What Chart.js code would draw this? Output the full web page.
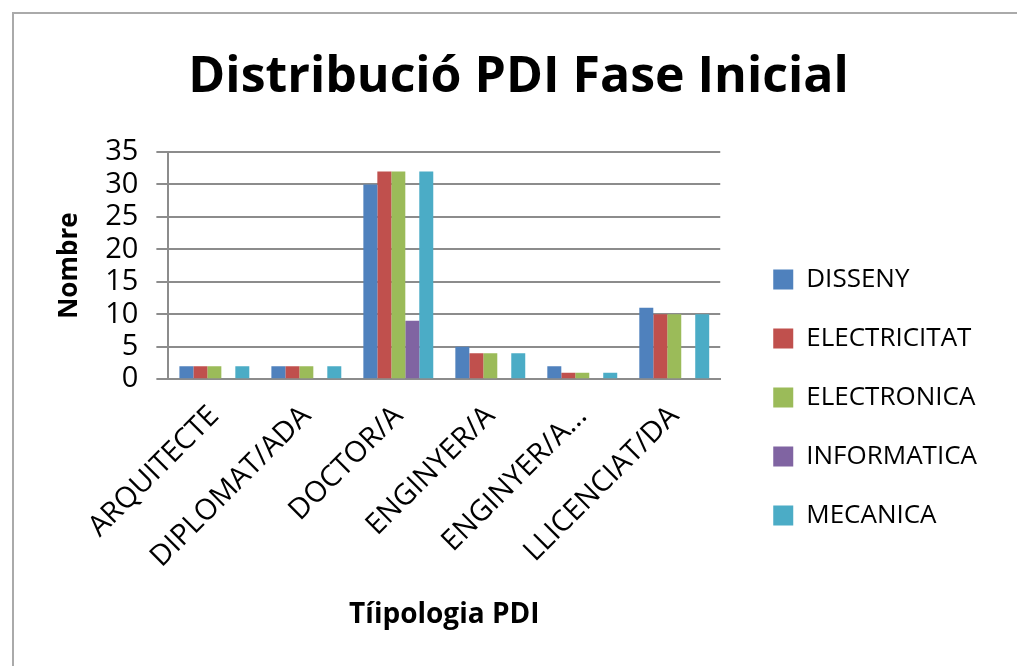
<!DOCTYPE html>
<html lang="ca">
  <head>
    <meta charset="UTF-8" />
    <title>Distribució PDI Fase Inicial</title>
    <style>
      body { margin: 0; background: #fff; overflow: hidden; }
      #frame {
        position: absolute;
        left: 12px;
        top: 12px;
        width: 1100px;
        height: 700px;
        border: 2px solid #aaa;
      }
      #wrap { position: absolute; left: 0; top: 0; width: 1003px; height: 652px; }
    </style>
  </head>
  <body>
    <div id="frame">
      <div id="wrap"><canvas id="myChart"></canvas></div>
    </div>

    <script src="https://cdn.jsdelivr.net/npm/chart.js"></script>
    <script>
      const categories = ["ARQUITECTE", "DIPLOMAT/ADA", "DOCTOR/A", "ENGINYER/A", "ENGINYER/A...", "LLICENCIAT/DA"];
      const disseny = [2, 2, 30, 5, 2, 11];
      const electricitat = [2, 2, 32, 4, 1, 10];
      const electronica = [2, 2, 32, 4, 1, 10];
      const informatica = [0, 0, 9, 0, 0, 0];
      const mecanica = [2, 2, 32, 4, 1, 10];
      const yTicks = [0, 5, 10, 15, 20, 25, 30, 35];

      const font = "'Open Sans', sans-serif";
      const grid = "#8c8c8c";

      function serie(label, data, color) {
        return {
          label: label,
          data: data,
          backgroundColor: color,
          borderWidth: 0,
          barPercentage: 1.0,
          categoryPercentage: 0.76,
        };
      }

      const ctx = document.getElementById("myChart").getContext("2d");
      const chart = new Chart(ctx, {
        type: "bar",
        data: {
          labels: categories,
          datasets: [
            serie("DISSENY", disseny, "#4f81bd"),
            serie("ELECTRICITAT", electricitat, "#c0504d"),
            serie("ELECTRONICA", electronica, "#9bbb59"),
            serie("INFORMATICA", informatica, "#8064a2"),
            serie("MECANICA", mecanica, "#4bacc6"),
          ],
        },
        options: {
          responsive: true,
          maintainAspectRatio: false,
          animation: false,
          layout: { padding: { left: 36, right: 30, bottom: 30 } },
          plugins: {
            title: {
              display: true,
              text: "Distribució PDI Fase Inicial",
              color: "#000",
              font: { family: font, size: 50, weight: "bold" },
              padding: { top: 34, bottom: 44 },
            },
            legend: {
              position: "right",
              // empty legend title only pushes the items down
              title: { display: true, text: "", font: { size: 10 }, padding: { top: 133, bottom: 0 } },
              labels: {
                color: "#000",
                font: { family: font, size: 26 },
                boxWidth: 20,
                boxHeight: 20,
                padding: 33,
              },
            },
            tooltip: { enabled: false },
          },
          scales: {
            x: {
              grid: { display: false },
              border: { color: grid, width: 2 },
              ticks: {
                color: "#000",
                font: { family: font, size: 29 },
                minRotation: 45,
                maxRotation: 45,
                autoSkip: false,
                padding: 12,
              },
              title: {
                display: true,
                text: "Tíipologia PDI",
                color: "#000",
                font: { family: font, size: 28, weight: "bold" },
                padding: { top: 12 },
              },
            },
            y: {
              min: 0,
              max: 35,
              afterBuildTicks: (axis) => {
                axis.ticks = yTicks.map((v) => ({ value: v }));
              },
              grid: { color: grid, lineWidth: 2, tickLength: 12 },
              border: { color: grid, width: 2 },
              ticks: {
                color: "#000",
                font: { family: font, size: 29 },
                autoSkip: false,
                padding: 18,
              },
              title: {
                display: true,
                text: "Nombre",
                color: "#000",
                font: { family: font, size: 26, weight: "bold" },
                padding: { bottom: 2 },
              },
            },
            // empty axis, just a gap between the plot and the legend
            gap: {
              type: "linear",
              position: "right",
              display: true,
              grid: { display: false, drawTicks: false },
              border: { display: false },
              ticks: { display: false },
              afterFit: (scale) => {
                scale.width = 20;
              },
            },
          },
        },
      });

      // let the legend take the width it needs
      const legend = chart.legend;
      const legendFit = legend.fit.bind(legend);
      legend.fit = function () {
        this.maxWidth = 400;
        legendFit();
      };
      chart.update();
    </script>
  </body>
</html>
